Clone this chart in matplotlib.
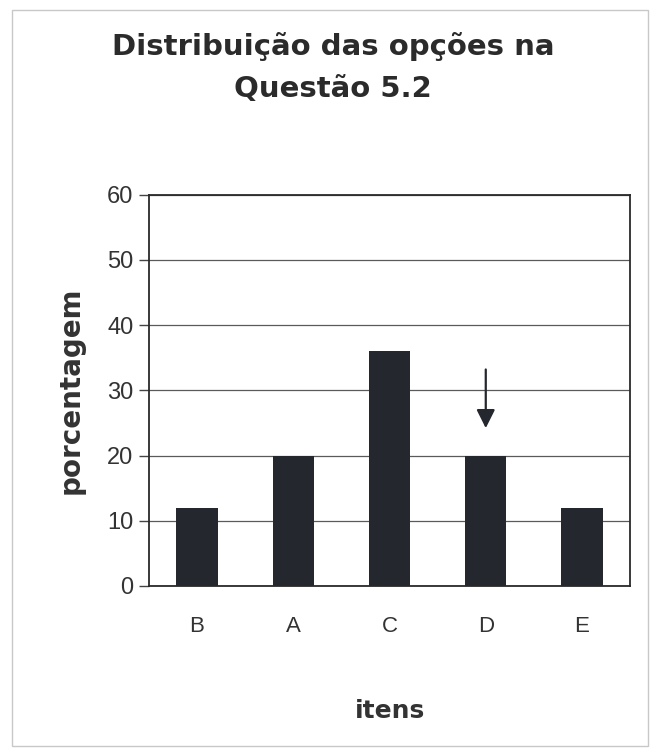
import matplotlib.pyplot as plt
from matplotlib.patches import Rectangle

# percentage of answers per option
itens = ['B', 'A', 'C', 'D', 'E']
porcentagem = [12, 20, 36, 20, 12]
gabarito = 'D'

fig = plt.figure(figsize=(6.53, 7.55), dpi=100)
ax = fig.add_axes([0.228, 0.224, 0.737, 0.518])

ax.bar(itens, porcentagem, width=0.43, color='#25272e', zorder=3)

ax.set_ylim(0, 60)
ax.set_xlim(-0.5, len(itens) - 0.5)
ax.set_yticks(range(0, 61, 10))
ax.yaxis.grid(True, color='#5a5a5a', linewidth=0.9, zorder=0)
for side in ax.spines.values():
    side.set_color('#2a2a2a')
    side.set_linewidth(1.3)
ax.tick_params(axis='y', length=7, width=1, color='#444444', labelsize=17,
               labelcolor='#333333', pad=4)
ax.tick_params(axis='x', length=0, labelsize=16, labelcolor='#333333', pad=22)
for lab in ax.get_xticklabels() + ax.get_yticklabels():
    lab.set_fontfamily('Liberation Sans')

# arrow marking the correct option
i = itens.index(gabarito)
ax.annotate('', xy=(i, 24.2), xytext=(i, 33.2),
            arrowprops=dict(arrowstyle='-|>', color='#25272e', lw=1.6,
                            mutation_scale=28, shrinkA=0, shrinkB=0), zorder=4)

ax.set_ylabel('porcentagem', fontsize=20, fontweight='bold', color='#333333',
              fontfamily='DejaVu Sans', labelpad=16)
ax.set_xlabel('itens', fontsize=18, fontweight='bold', color='#333333',
              fontfamily='DejaVu Sans', labelpad=44)
fig.suptitle('Distribuição das opções na\nQuestão 5.2', x=0.51, y=0.958,
             fontsize=21, fontweight='bold', color='#2b2b2b',
             fontfamily='DejaVu Sans', linespacing=1.65)

# light frame round the whole figure
fig.patches.append(Rectangle((0.018, 0.012), 0.975, 0.975, transform=fig.transFigure,
                             fill=False, edgecolor='#c8c8c8', linewidth=1))

fig.savefig('out.png', dpi=100)
